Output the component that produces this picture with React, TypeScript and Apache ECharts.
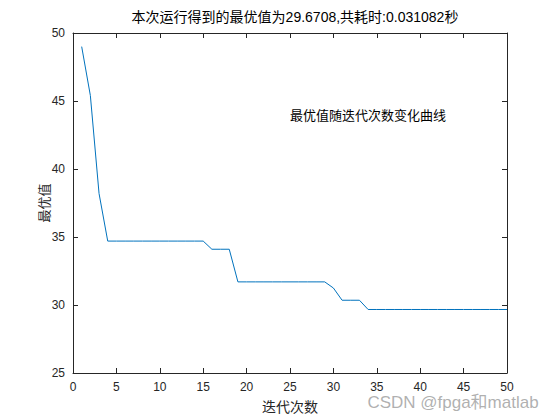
import React, { useEffect, useRef } from "react";
import * as echarts from "echarts";

const iterations: number[] = Array.from({ length: 50 }, (_, i) => i + 1);
const bestValues: number[] = [
  49.0, 45.4, 38.2, 34.7, 34.7, 34.7, 34.7, 34.7, 34.7, 34.7,
  34.7, 34.7, 34.7, 34.7, 34.7, 34.1, 34.1, 34.1, 31.7, 31.7,
  31.7, 31.7, 31.7, 31.7, 31.7, 31.7, 31.7, 31.7, 31.7, 31.25,
  30.35, 30.35, 30.35, 29.67, 29.67, 29.67, 29.67, 29.67, 29.67, 29.67,
  29.67, 29.67, 29.67, 29.67, 29.67, 29.67, 29.67, 29.67, 29.67, 29.67,
];

const titleText = "本次运行得到的最优值为29.6708,共耗时:0.031082秒";
const annotation = "最优值随迭代次数变化曲线";
const xName = "迭代次数";
const yName = "最优值";
const watermark = "CSDN @fpga和matlab";

export default function App() {
  const ref = useRef<HTMLDivElement>(null);
  useEffect(() => {
    if (!ref.current) return;
    const chart = echarts.init(ref.current, undefined, { renderer: "svg" });
    const axisColor = "#262626";
    const font = "Arial, 'Liberation Sans', 'Noto Sans CJK SC', sans-serif";
    const cjk = "'Noto Sans CJK SC', sans-serif";
    const boxAxis = (extra: any) => ({
      type: "value",
      axisLine: { show: true, onZero: false, lineStyle: { color: axisColor, width: 1 } },
      axisTick: { show: true, inside: true, length: 5, lineStyle: { color: axisColor } },
      splitLine: { show: false },
      ...extra,
    });
    chart.setOption({
      animation: false,
      backgroundColor: "#ffffff",
      grid: { left: 73, right: 53, top: 33, bottom: 47, containLabel: false },
      title: {
        text: titleText,
        left: 290,
        textAlign: "center",
        top: 5,
        textStyle: { fontSize: 14, fontWeight: "normal", color: "#000", fontFamily: font },
      },
      xAxis: [
        boxAxis({
          min: 0, max: 50, interval: 5, position: "bottom",
          axisLabel: { color: axisColor, fontSize: 12, fontFamily: font, margin: 8 },
        }),
        boxAxis({
          min: 0, max: 50, interval: 5, position: "top",
          axisLabel: { show: false },
        }),
      ],
      yAxis: [
        boxAxis({
          min: 25, max: 50, interval: 5, position: "left",
          axisLabel: { color: axisColor, fontSize: 12, fontFamily: font, margin: 8 },
        }),
        boxAxis({
          min: 25, max: 50, interval: 5, position: "right",
          axisLabel: { show: false },
        }),
      ],
      series: [
        {
          type: "line",
          data: iterations.map((x, i) => [x, bestValues[i]]),
          showSymbol: false,
          symbol: "none",
          lineStyle: { color: "#0072BD", width: 1 },
        },
      ],
      graphic: [
        {
          type: "text",
          x: 290,
          y: 114,
          style: { text: annotation, fontSize: 13, fill: "#000", fontFamily: cjk, align: "left", verticalAlign: "middle" },
          z: 10,
        },
        {
          type: "text",
          x: 290,
          y: 406,
          style: { text: xName, fontSize: 14, fill: axisColor, fontFamily: cjk, align: "center", verticalAlign: "middle" },
        },
        {
          type: "text",
          x: 43,
          y: 203,
          rotation: Math.PI / 2,
          style: { text: yName, fontSize: 13, fill: axisColor, fontFamily: cjk, align: "center", verticalAlign: "middle" },
        },
        {
          type: "text",
          x: 453,
          y: 402,
          style: { text: watermark, fontSize: 17, fill: "rgba(150,150,150,0.75)", fontFamily: font, align: "center", verticalAlign: "middle" },
          z: 20,
        },
      ],
    });
    return () => chart.dispose();
  }, []);
  return (
    <div
      ref={ref}
      style={{ position: "absolute", left: 0, top: 0, width: 560, height: 420 }}
    />
  );
}
